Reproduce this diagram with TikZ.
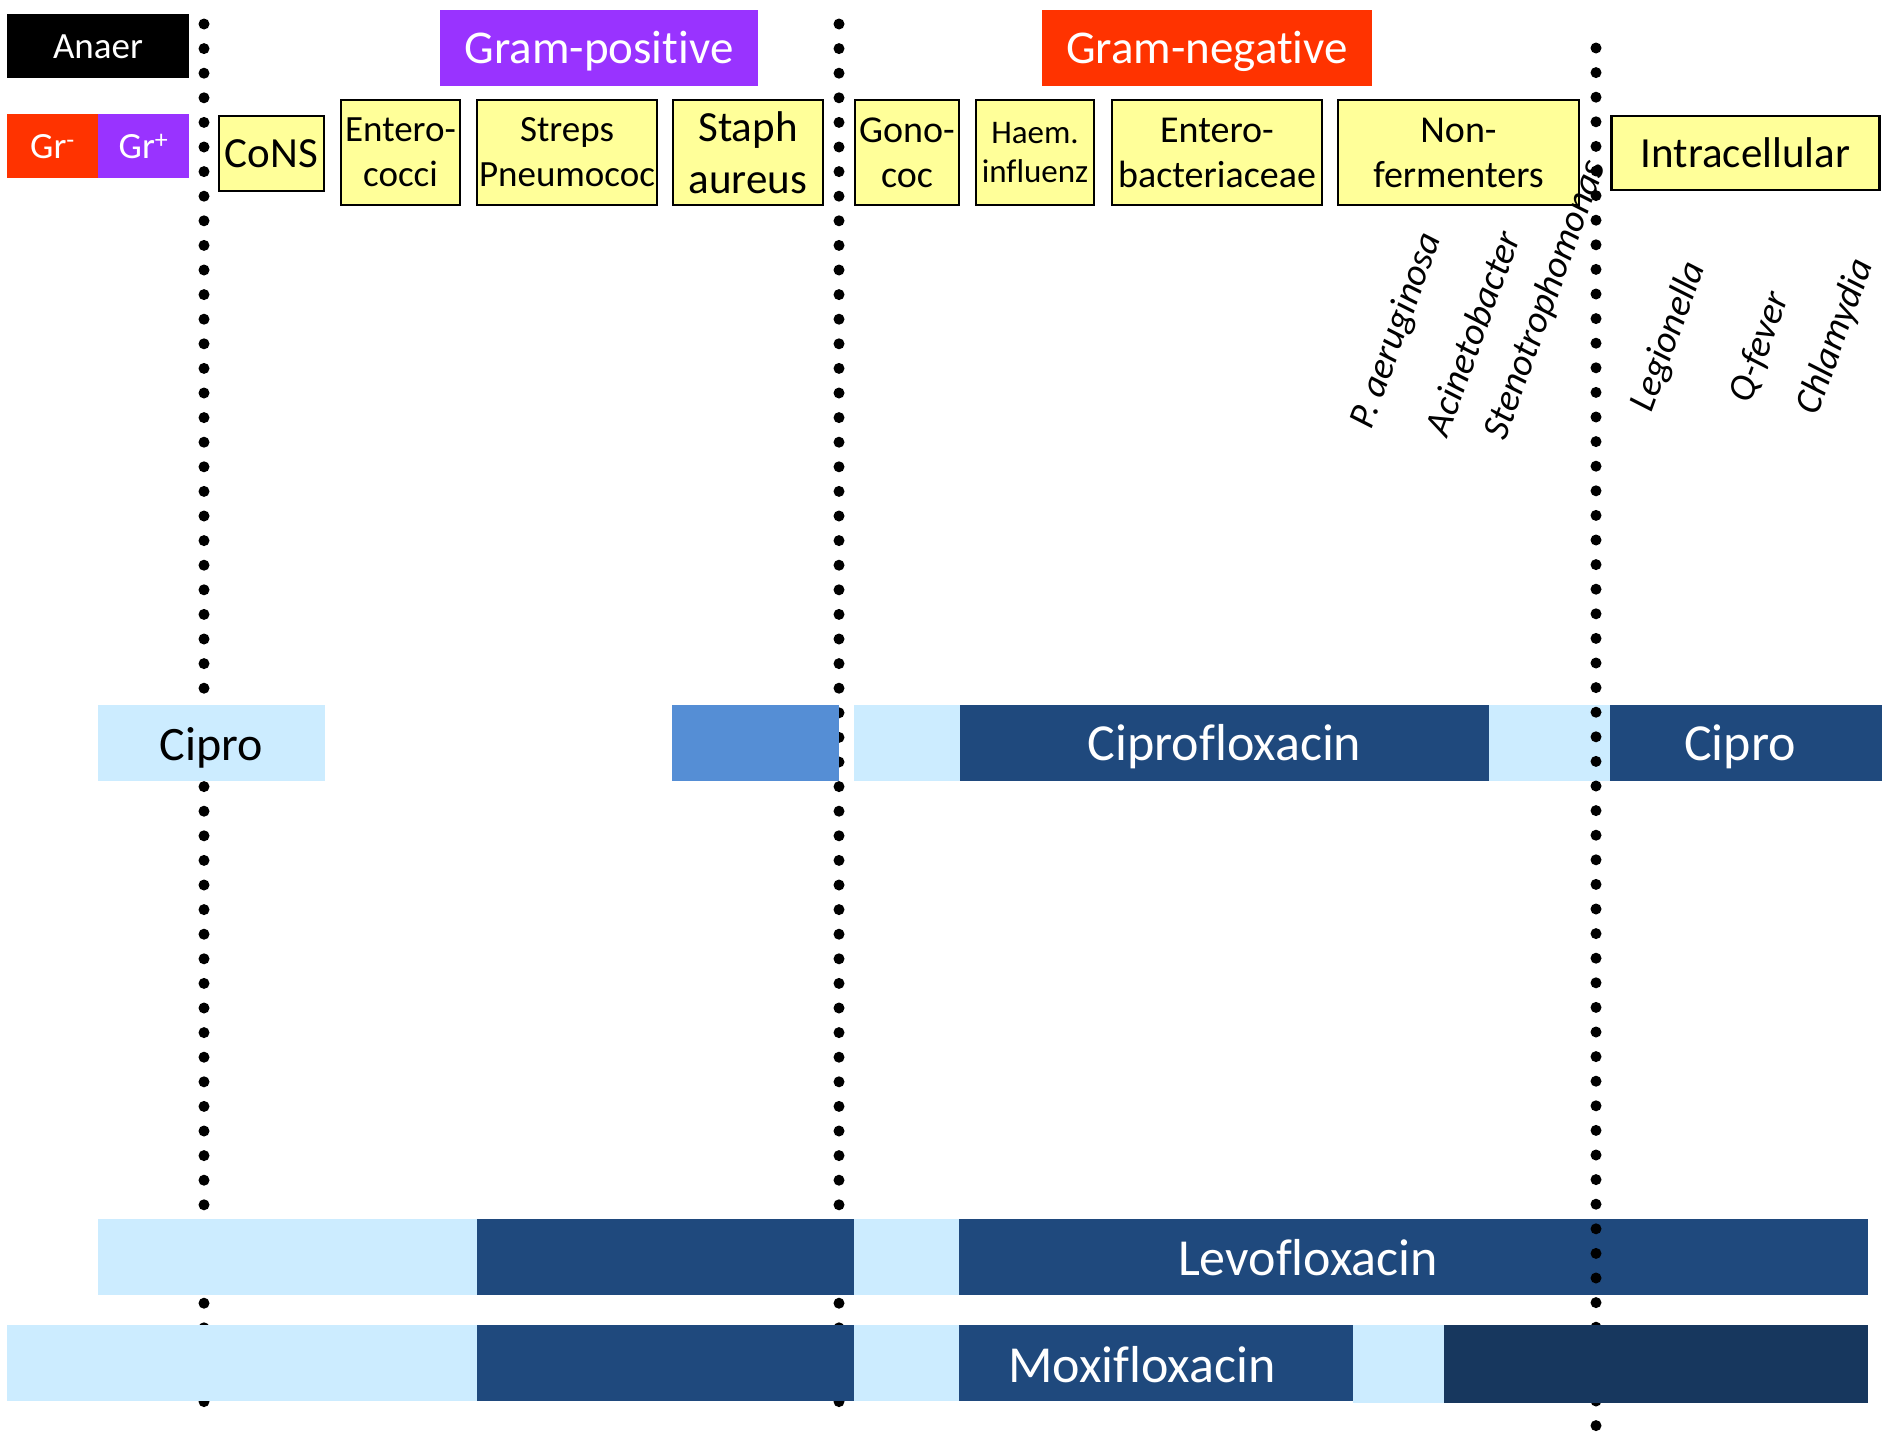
\documentclass[tikz,border=0pt]{standalone}
\usepackage{fontspec}
\setmainfont{Carlito}[Ligatures=NoCommon]
\definecolor{lblue}{HTML}{CCECFF}
\definecolor{dblue}{HTML}{1F497D}
\definecolor{mblue}{HTML}{558ED5}
\definecolor{ddblue}{HTML}{17375E}
\definecolor{yboxc}{HTML}{FFFF99}
\definecolor{gred}{HTML}{FF3300}
\definecolor{gpurple}{HTML}{9933FF}
\newcommand\fsz[2]{\fontsize{#1}{#2}\selectfont}
\begin{document}
\begin{tikzpicture}[x=1pt,y=-1pt,
  hdr/.style={inner sep=0pt, outer sep=0pt, draw=none},
  ybox/.style={draw=black, line width=2.5pt, fill=yboxc, inner sep=0pt, outer sep=0pt, align=center, minimum height=105pt},
  bar/.style={inner sep=0pt, outer sep=0pt, draw=none, minimum height=76pt},
  dotline/.style={line width=11pt, line cap=round, dash pattern=on 0pt off 24.6pt},
  lab/.style={anchor=base, inner sep=0pt, outer sep=0pt},
  rot/.style={rotate=70, font=\itshape\fsz{38}{45}, inner sep=0pt}
]
\useasboundingbox (0,0) rectangle (1882,1440);

% dotted separators (behind bars)
\coordinate (d1a) at (204,24);  \coordinate (d1b) at (204,1404);
\coordinate (d2a) at (839,24);  \coordinate (d2b) at (839,1404);
\coordinate (d3a) at (1596,48); \coordinate (d3b) at (1596,1426);
\draw[dotline] (d1a) -- (d1b);
\draw[dotline] (d2a) -- (d2b);

% header boxes
\node[hdr, fill=black, minimum width=182pt, minimum height=64pt] (anaer) at (98,46) {};
\node[lab, text=white, font=\fsz{37}{44}] (anaerT) at (98,58) {Anaer};
\node[hdr, fill=gred, minimum width=91pt, minimum height=64pt] (grn) at (52.5,146) {};
\node[hdr, fill=gpurple, minimum width=91pt, minimum height=64pt] (grp) at (143.5,146) {};
\node[lab, text=white, font=\fsz{37}{44}] (grnT) at (52.5,158) {Gr\textsuperscript{-}};
\node[lab, text=white, font=\fsz{37}{44}] (grpT) at (143.5,158) {Gr\textsuperscript{+}};
\node[hdr, fill=gpurple, minimum width=318pt, minimum height=76pt] (gpos) at (599,48) {};
\node[lab, text=white, font=\fsz{47}{56}] (gposT) at (599,63) {Gram-positive};
\node[hdr, fill=gred, minimum width=330pt, minimum height=76pt] (gneg) at (1207,48) {};
\node[lab, text=white, font=\fsz{47}{56}] (gnegT) at (1207,63) {Gram-negative};

% organism boxes
\node[ybox, minimum width=105pt, minimum height=75pt, font=\fsz{43}{51}] (cons) at (271.5,153.5) {CoNS};
\node[ybox, minimum width=119pt, font=\fsz{37}{45}] (entc) at (400.5,152.5) {Entero-\\cocci};
\node[ybox, minimum width=180pt, font=\fsz{37}{45}] (strep) at (567,152.5) {Streps\\Pneumococ};
\node[ybox, minimum width=150pt, font=\fsz{43}{52}] (staph) at (748,152.5) {Staph\\aureus};
\node[ybox, minimum width=104pt, font=\fsz{38}{45}] (gono) at (907,152.5) {Gono-\\coc};
\node[ybox, minimum width=118pt, font=\fsz{33}{39}] (haem) at (1035,152.5) {Haem.\\influenz};
\node[ybox, minimum width=210pt, font=\fsz{38}{45}] (entb) at (1217,152.5) {Entero-\\bacteriaceae};
\node[ybox, minimum width=241pt, font=\fsz{38}{45}] (nonf) at (1458.5,152.5) {Non-\\fermenters};
\node[ybox, minimum width=268pt, minimum height=74pt, font=\fsz{43}{51}] (intra) at (1745.5,153) {Intracellular};

% Ciprofloxacin row
\node[bar, fill=lblue, minimum width=227pt] (c1) at (211.5,743) {};
\node[bar, fill=mblue, minimum width=167pt] (c2) at (755.5,743) {};
\node[bar, fill=lblue, minimum width=106pt] (c3) at (907,743) {};
\node[bar, fill=dblue, minimum width=529pt] (c4) at (1224.5,743) {};
\node[bar, fill=lblue, minimum width=121pt] (c5) at (1549.5,743) {};
\node[bar, fill=dblue, minimum width=272pt] (c6) at (1746,743) {};

% Levofloxacin row
\node[bar, fill=lblue, minimum width=379pt] (l1) at (287.5,1257) {};
\node[bar, fill=dblue, minimum width=377pt] (l2) at (665.5,1257) {};
\node[bar, fill=lblue, minimum width=105pt] (l3) at (906.5,1257) {};
\node[bar, fill=dblue, minimum width=909pt] (l4) at (1413.5,1257) {};

% third separator (over the upper bars)
\draw[dotline] (d3a) -- (d3b);

% Moxifloxacin row
\node[bar, fill=lblue, minimum width=470pt] (m1) at (242,1363) {};
\node[bar, fill=dblue, minimum width=377pt] (m2) at (665.5,1363) {};
\node[bar, fill=lblue, minimum width=105pt] (m3) at (906.5,1363) {};
\node[bar, fill=dblue, minimum width=394pt] (m4) at (1156,1363) {};
\node[bar, fill=lblue, minimum width=91pt, minimum height=78pt] (m5) at (1398.5,1364) {};
\node[bar, fill=ddblue, minimum width=424pt, minimum height=78pt] (m6) at (1656,1364) {};

% bar labels
\node[lab, font=\fsz{48}{58}] (t1) at (211.5,760) {Cipro};
\node[lab, text=white, font=\fsz{52}{62}] (t2) at (1224.5,760) {Ciprofloxacin};
\node[lab, text=white, font=\fsz{52}{62}] (t3) at (1740,760) {Cipro};
\node[lab, text=white, font=\fsz{52}{62}] (t4) at (1308,1275) {Levofloxacin};
\node[lab, text=white, font=\fsz{52}{62}] (t5) at (1142,1382) {Moxifloxacin};

% species labels
\node[rot] (pae) at (1397,331) {P. aeruginosa};
\node[rot] (aci) at (1472,333) {Acinetobacter};
\node[rot] (ste) at (1546,300) {Stenotrophomonas};
\node[rot] (leg) at (1669,337) {Legionella};
\node[rot] (qfe) at (1760,347) {Q-fever};
\node[rot] (chl) at (1836,337) {Chlamydia};
\end{tikzpicture}
\end{document}
